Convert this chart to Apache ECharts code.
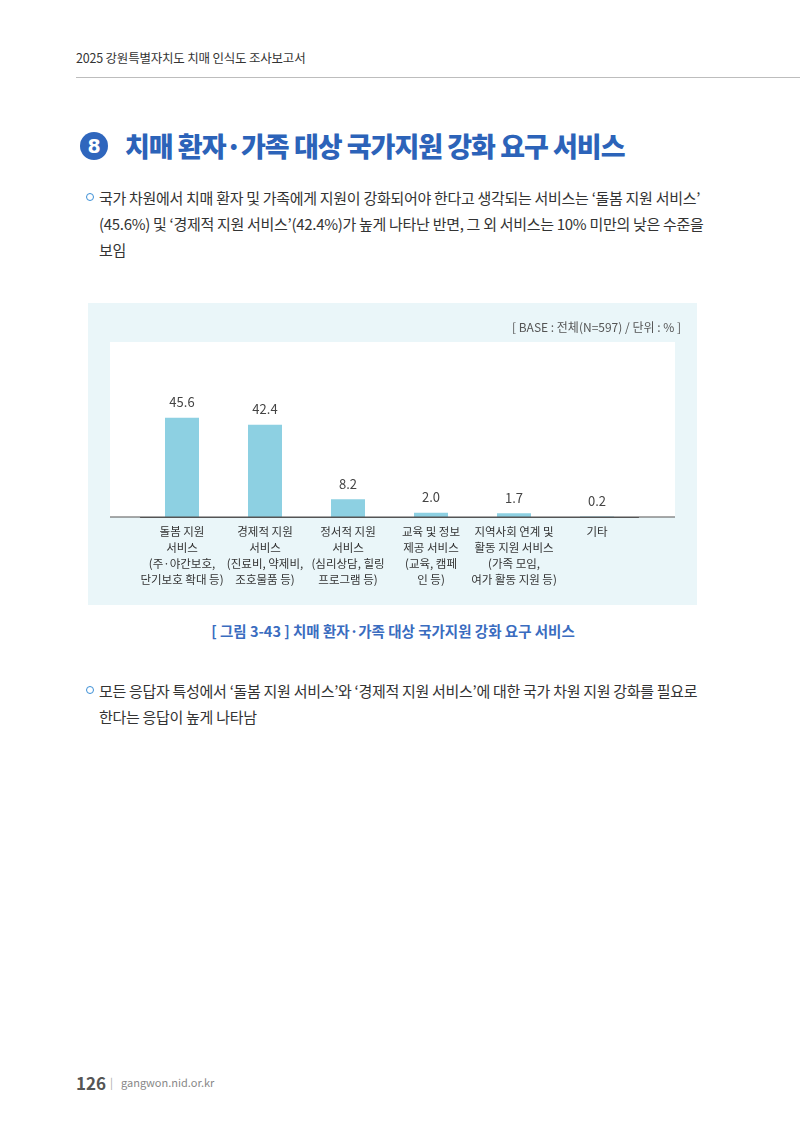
<!DOCTYPE html>
<html><head><meta charset="utf-8">
<script src="https://cdn.jsdelivr.net/npm/echarts@6/dist/echarts.min.js"></script>
<style>
html,body{margin:0;padding:0;background:#fff;}
body{width:800px;height:1132px;position:relative;font-family:"Noto Sans CJK KR","Noto Sans",sans-serif;color:#333;}
.abs{position:absolute;white-space:nowrap;}
#hdr{left:76px;top:48px;font-size:12.5px;color:#333;letter-spacing:-0.2px;}
#hline{left:76px;top:77px;width:724px;height:1px;background:#bdbdbd;}
#badge{left:80px;top:132px;width:28px;height:28px;border-radius:50%;background:#2f66bd;color:#fff;font-weight:900;font-size:19px;line-height:28px;text-align:center;font-family:"DejaVu Sans",sans-serif;}
#title{left:125px;top:126px;font-size:27px;font-weight:900;color:#2c63b9;letter-spacing:-1px;}
.para{left:99px;font-size:15px;line-height:26px;color:#333;letter-spacing:-0.3px;}
.bullet{width:6px;height:6px;border:1.5px solid #3c8fd6;border-radius:50%;}
#cap{left:0;width:786px;text-align:center;top:620px;font-size:14.5px;font-weight:700;color:#3a6cbf;}
#pg{left:76px;top:1070px;font-size:17px;font-weight:700;color:#555;}
#site{left:110px;top:1074px;font-size:11px;color:#888;}
#chart{position:absolute;left:88px;top:303px;width:609px;height:302px;}
</style></head><body>
<div class="abs" id="hdr">2025 강원특별자치도 치매 인식도 조사보고서</div>
<div class="abs" id="hline"></div>
<div class="abs" id="badge">8</div>
<div class="abs" id="title">치매 환자·가족 대상 국가지원 강화 요구 서비스</div>
<div class="abs bullet" style="left:86px;top:193px;"></div>
<div class="abs para" style="top:185px;">국가 차원에서 치매 환자 및 가족에게 지원이 강화되어야 한다고 생각되는 서비스는 ‘돌봄 지원 서비스’</div>
<div class="abs para" style="top:211px;">(45.6%) 및 ‘경제적 지원 서비스’(42.4%)가 높게 나타난 반면, 그 외 서비스는 10% 미만의 낮은 수준을</div>
<div class="abs para" style="top:237px;">보임</div>
<div id="chart"></div>
<div class="abs" id="cap">[ 그림 3-43 ] 치매 환자·가족 대상 국가지원 강화 요구 서비스</div>
<div class="abs bullet" style="left:86px;top:686px;"></div>
<div class="abs para" style="top:678px;">모든 응답자 특성에서 ‘돌봄 지원 서비스’와 ‘경제적 지원 서비스’에 대한 국가 차원 지원 강화를 필요로</div>
<div class="abs para" style="top:704px;">한다는 응답이 높게 나타남</div>
<div class="abs" id="pg">126</div>
<div class="abs" id="site"><span style="color:#aaa;margin-right:8px;">|</span>gangwon.nid.or.kr</div>
<script>
const categories = [
  "돌봄 지원\n서비스\n(주·야간보호,\n단기보호 확대 등)",
  "경제적 지원\n서비스\n(진료비, 약제비,\n조호물품 등)",
  "정서적 지원\n서비스\n(심리상담, 힐링\n프로그램 등)",
  "교육 및 정보\n제공 서비스\n(교육, 캠페\n인 등)",
  "지역사회 연계 및\n활동 지원 서비스\n(가족 모임,\n여가 활동 지원 등)",
  "기타"
];
const values = [45.6, 42.4, 8.2, 2.0, 1.7, 0.2];
const baseNote = "[ BASE : 전체(N=597) / 단위 : % ]";

const chart = echarts.init(document.getElementById('chart'), null, {renderer:'canvas'});
chart.setOption({
  animation:false,
  backgroundColor:'#eaf6f9',
  textStyle:{fontFamily:'"Noto Sans CJK KR","Noto Sans",sans-serif'},
  title:{text:baseNote,right:11,top:13,textStyle:{fontSize:12,fontWeight:'normal',color:'#555'}},
  graphic:[
    {type:'rect',shape:{x:22,y:39,width:565,height:175},style:{fill:'#ffffff'},z:-1,silent:true},
    {type:'line',shape:{x1:22,y1:214,x2:587,y2:214},style:{stroke:'#555',lineWidth:1.2},z:10,silent:true}
  ],
  grid:{left:52.5,top:40,width:498,height:174},
  xAxis:{type:'category',data:categories,
    axisLine:{show:true,lineStyle:{color:'#555',width:1.2}},
    axisTick:{show:false},
    axisLabel:{interval:0,fontSize:11.5,lineHeight:16,color:'#333',margin:7,verticalAlign:'top'}},
  yAxis:{type:'value',min:0,max:80,show:false,splitLine:{show:false}},
  series:[{type:'bar',data:values,barWidth:34,
    itemStyle:{color:'#8dd0e2'},
    label:{show:true,position:'top',distance:9,fontSize:13,color:'#444',formatter:p=>p.value.toFixed(1)}}]
});
</script>
</body></html>
